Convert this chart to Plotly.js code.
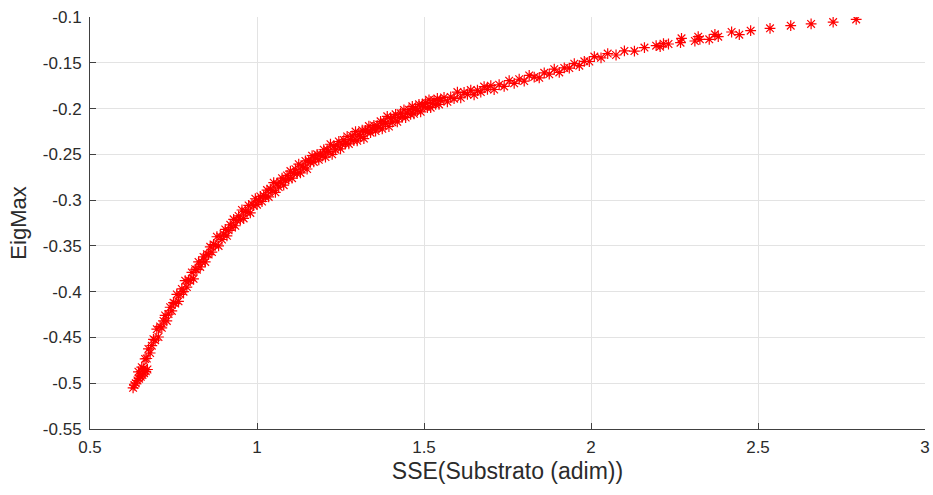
<!DOCTYPE html>
<html>
<head>
<meta charset="utf-8">
<script src="https://cdn.plot.ly/plotly-3.0.1.min.js"></script>
<style>html,body{margin:0;padding:0;background:#fff;}#chart{width:933px;height:495px;}</style>
</head>
<body>
<div id="chart"></div>
<script>
// SSE(Substrato (adim)) values
const sse = [
0.629,0.633,0.637,0.642,0.647,0.652,0.657,0.662,0.667,0.672,
0.645,0.650,0.655,0.660,0.665,0.670,0.675,0.680,0.685,0.690,0.695,0.700,0.705,0.710,0.715,0.720,0.725,0.730,0.735,0.740,
0.745,0.750,0.755,0.760,0.765,0.770,0.775,0.780,0.785,0.790,0.795,0.800,0.805,0.810,0.815,0.820,0.825,0.830,0.835,0.840,
0.845,0.850,0.855,0.860,0.865,0.870,0.875,0.880,0.885,0.890,0.895,0.900,0.905,0.910,0.915,0.920,0.925,0.930,0.935,0.940,
0.945,0.950,0.955,0.960,0.965,0.970,0.975,0.980,0.985,0.990,0.995,1.000,1.005,1.010,1.015,1.020,1.025,1.030,1.035,1.040,
1.045,1.050,1.055,1.060,1.065,1.070,1.075,1.080,1.085,1.090,1.095,1.100,1.105,1.110,1.115,1.120,1.125,1.130,1.135,1.140,
1.145,1.150,1.155,1.160,1.165,1.170,1.175,1.180,1.185,1.190,1.195,1.200,1.205,1.210,1.215,1.220,1.225,1.230,1.235,1.240,
1.245,1.250,1.255,1.260,1.265,1.270,1.275,1.280,1.285,1.290,1.295,1.300,1.305,1.310,1.315,1.320,1.325,1.330,1.335,1.340,
1.345,1.350,1.355,1.360,1.365,1.370,1.375,1.380,1.385,1.390,1.395,1.400,1.405,1.410,1.415,1.420,1.425,1.430,1.435,1.440,
1.445,1.450,1.455,1.460,1.465,1.470,1.475,1.480,1.485,1.490,1.495,1.500,1.505,1.510,1.515,1.520,1.525,1.530,1.535,1.540,
1.545,1.550,1.560,1.570,1.580,1.590,1.600,1.610,1.620,1.630,1.640,1.650,1.660,1.670,1.680,1.690,1.700,1.710,1.725,1.740,
1.755,1.770,1.785,1.800,1.815,1.830,1.845,1.860,1.875,1.890,1.905,1.920,1.935,1.950,1.965,1.980,1.995,2.010,2.030,2.050,
2.075,2.100,2.130,2.160,
2.195,2.207,2.217,2.232,2.268,2.271,2.311,2.321,2.326,2.354,2.371,2.381,2.421,2.444,2.478,2.536,2.598,2.659,2.725,2.794
];
// EigMax values
const eigMax = [
-0.505,-0.502,-0.500,-0.497,-0.495,-0.493,-0.491,-0.489,-0.487,-0.485,
-0.4875,-0.491,-0.4825,-0.484,-0.4735,-0.473,-0.4625,-0.467,-0.459,-0.452,-0.453,-0.441,-0.4495,-0.438,-0.4395,-0.432,-0.426,-0.432,-0.4245,-0.417,
-0.421,-0.412,-0.413,-0.403,-0.4105,-0.403,-0.397,-0.400,-0.388,-0.395,-0.3875,-0.388,-0.379,-0.386,-0.3755,-0.376,-0.3675,-0.373,-0.3675,-0.362,
-0.3675,-0.359,-0.3595,-0.351,-0.3568,-0.3485,-0.3493,-0.340,-0.350,-0.340,-0.343,-0.337,-0.332,-0.339,-0.333,-0.327,-0.330,-0.321,-0.328,-0.322,
-0.3173,-0.3215,-0.3108,-0.320,-0.3123,-0.3135,-0.3058,-0.314,-0.3045,-0.306,-0.2985,-0.305,-0.3005,-0.296,-0.3015,-0.295,-0.2965,-0.289,-0.2965,-0.288,
-0.2895,-0.281,-0.2915,-0.282,-0.2857,-0.2803,-0.276,-0.2837,-0.2783,-0.273,-0.2767,-0.2683,-0.276,-0.2707,-0.2663,-0.271,-0.2607,-0.2703,-0.263,-0.2647,
-0.2573,-0.266,-0.2568,-0.2587,-0.2515,-0.2583,-0.2542,-0.250,-0.256,-0.250,-0.252,-0.245,-0.253,-0.245,-0.247,-0.239,-0.250,-0.241,-0.245,-0.240,
-0.236,-0.244,-0.239,-0.2343,-0.2384,-0.2305,-0.2386,-0.2338,-0.2299,-0.235,-0.2251,-0.2353,-0.2284,-0.2305,-0.2236,-0.2328,-0.2239,-0.226,-0.2191,-0.2263,
-0.2224,-0.2185,-0.2246,-0.2188,-0.2209,-0.214,-0.2221,-0.2143,-0.2164,-0.2085,-0.2196,-0.2108,-0.2149,-0.210,-0.2063,-0.2145,-0.2098,-0.205,-0.2093,-0.2015,
-0.2098,-0.205,-0.2012,-0.2064,-0.1976,-0.2058,-0.200,-0.2022,-0.1954,-0.2036,-0.1958,-0.198,-0.1935,-0.199,-0.1905,-0.199,-0.1945,-0.191,-0.1955,-0.189,
-0.1955,-0.191,-0.1878,-0.1926,-0.1874,-0.1892,-0.182,-0.1882,-0.1824,-0.1846,-0.1798,-0.185,-0.180,-0.182,-0.176,-0.179,-0.175,-0.1792,-0.174,-0.1758,
-0.1696,-0.1724,-0.168,-0.170,-0.1638,-0.1656,-0.1664,-0.161,-0.1625,-0.157,-0.1605,-0.1556,-0.1558,-0.151,-0.1532,-0.1484,-0.1486,-0.1432,-0.1446,-0.140,
-0.1415,-0.137,-0.1372,-0.1334,
-0.1313,-0.1324,-0.1291,-0.1295,-0.1280,-0.1233,-0.1262,-0.1215,-0.1244,-0.1244,-0.1189,-0.1215,-0.1164,-0.1193,-0.1149,-0.1124,-0.1095,-0.1076,-0.1055,-0.1026
];
const xTickVals = [0.5, 1, 1.5, 2, 2.5, 3];
const xTickText = ['0.5', '1', '1.5', '2', '2.5', '3'];
const yTickVals = [-0.55, -0.5, -0.45, -0.4, -0.35, -0.3, -0.25, -0.2, -0.15, -0.1];
const yTickText = ['-0.55', '-0.5', '-0.45', '-0.4', '-0.35', '-0.3', '-0.25', '-0.2', '-0.15', '-0.1'];

const trace = {
  type: 'scatter', mode: 'markers', x: sse, y: eigMax,
  marker: {symbol: 'asterisk-open', size: 9, color: '#ff0000', line: {color: '#ff0000', width: 1.2}},
  hoverinfo: 'x+y', showlegend: false
};
const axisCommon = {
  showline: true, linecolor: '#404040', linewidth: 1,
  showgrid: true, gridcolor: '#e3e3e3', gridwidth: 1,
  zeroline: false, ticks: 'inside', ticklen: 6, tickcolor: '#404040',
  tickfont: {family: 'Liberation Sans, Arial, sans-serif', size: 17, color: '#2b2b2b'},
  tickmode: 'array', mirror: false, automargin: false
};
const layout = {
  width: 933, height: 495,
  margin: {l: 90, r: 8, t: 17, b: 66},
  paper_bgcolor: '#ffffff', plot_bgcolor: '#ffffff',
  xaxis: Object.assign({}, axisCommon, {
    range: [0.5, 3], tickvals: xTickVals, ticktext: xTickText, ticklabelstandoff: 3,
    title: {text: 'SSE(Substrato (adim))', font: {family: 'Liberation Sans, Arial, sans-serif', size: 23, color: '#2b2b2b'}, standoff: 6}
  }),
  yaxis: Object.assign({}, axisCommon, {
    range: [-0.55, -0.1], tickvals: yTickVals, ticktext: yTickText, ticklabelstandoff: 4,
    title: {text: 'EigMax', font: {family: 'Liberation Sans, Arial, sans-serif', size: 22, color: '#2b2b2b'}, standoff: 10}
  })
};
Plotly.newPlot('chart', [trace], layout, {displayModeBar: false, staticPlot: true});
</script>
</body>
</html>
